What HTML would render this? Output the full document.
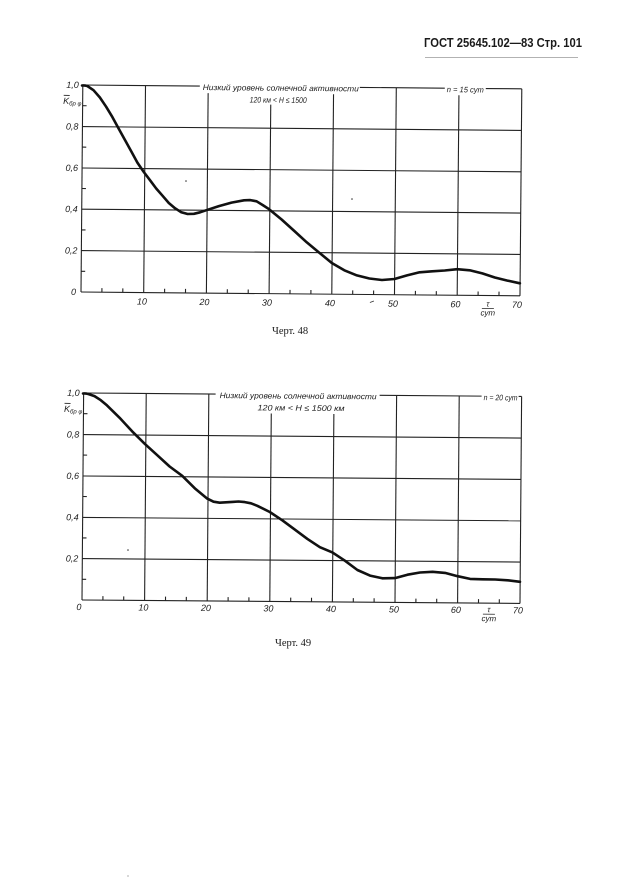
<!DOCTYPE html>
<html>
<head>
<meta charset="utf-8">
<style>
html,body{margin:0;padding:0;background:#fff;}
svg{display:block;}
text{font-family:"Liberation Sans","DejaVu Sans",sans-serif;fill:#1a1a1a;}
.it{font-style:italic;}
.g{stroke:#222;stroke-width:1.1;fill:none;}
.c{stroke:#111;stroke-width:2.6;fill:none;stroke-linejoin:round;stroke-linecap:round;}
.tl{font-size:9px;font-style:italic;}
.ti{font-size:8px;font-style:italic;}
.cap{font-family:"Liberation Serif","DejaVu Serif",serif;font-size:10.5px;}
</style>
</head>
<body>
<svg width="625" height="884" viewBox="0 0 625 884" xmlns="http://www.w3.org/2000/svg">
<rect width="625" height="884" fill="#fff"/>

<!-- Header -->
<text x="424" y="47" font-size="12.5" font-weight="bold" textLength="158" lengthAdjust="spacingAndGlyphs">ГОСТ 25645.102—83 Стр. 101</text>
<line x1="425" y1="57.5" x2="578" y2="57.5" stroke="#999" stroke-width="0.8"/>

<!-- ===== Chart 1 ===== -->
<g transform="rotate(0.5 81 292)">
  <!-- borders -->
  <line class="g" x1="81" y1="85" x2="81" y2="292" stroke-width="1.4"/>
  <line class="g" x1="81" y1="292" x2="520" y2="292" stroke-width="1.4"/>
  <line class="g" x1="520" y1="85" x2="520" y2="292"/>
  <line class="g" x1="81" y1="85" x2="198" y2="85"/>
  <line class="g" x1="358" y1="85" x2="443" y2="85"/>
  <line class="g" x1="484" y1="85" x2="520" y2="85"/>
  <!-- horizontal grid -->
  <line class="g" x1="81" y1="126.6" x2="520" y2="126.6"/>
  <line class="g" x1="81" y1="168" x2="520" y2="168"/>
  <line class="g" x1="81" y1="209.2" x2="520" y2="209.2"/>
  <line class="g" x1="81" y1="250.6" x2="520" y2="250.6"/>
  <!-- vertical grid -->
  <line class="g" x1="143.7" y1="85" x2="143.7" y2="292"/>
  <line class="g" x1="206.4" y1="92" x2="206.4" y2="292"/>
  <line class="g" x1="269.1" y1="103" x2="269.1" y2="292"/>
  <line class="g" x1="331.8" y1="92" x2="331.8" y2="292"/>
  <line class="g" x1="394.5" y1="85" x2="394.5" y2="292"/>
  <line class="g" x1="457.2" y1="92" x2="457.2" y2="292"/>
  <!-- y minor ticks -->
  <g class="g">
    <line x1="81" y1="105.7" x2="85" y2="105.7"/>
    <line x1="81" y1="147.1" x2="85" y2="147.1"/>
    <line x1="81" y1="188.5" x2="85" y2="188.5"/>
    <line x1="81" y1="229.9" x2="85" y2="229.9"/>
    <line x1="81" y1="271.3" x2="85" y2="271.3"/>
  </g>
  <!-- x minor ticks (thirds) -->
  <g class="g">
    <line x1="101.9" y1="292" x2="101.9" y2="288"/>
    <line x1="122.8" y1="292" x2="122.8" y2="288"/>
    <line x1="164.6" y1="292" x2="164.6" y2="288"/>
    <line x1="185.5" y1="292" x2="185.5" y2="288"/>
    <line x1="227.3" y1="292" x2="227.3" y2="288"/>
    <line x1="248.2" y1="292" x2="248.2" y2="288"/>
    <line x1="290" y1="292" x2="290" y2="288"/>
    <line x1="310.9" y1="292" x2="310.9" y2="288"/>
    <line x1="352.7" y1="292" x2="352.7" y2="288"/>
    <line x1="373.6" y1="292" x2="373.6" y2="288"/>
    <line x1="415.4" y1="292" x2="415.4" y2="288"/>
    <line x1="436.3" y1="292" x2="436.3" y2="288"/>
    <line x1="478.1" y1="292" x2="478.1" y2="288"/>
    <line x1="499" y1="292" x2="499" y2="288"/>
  </g>
  <!-- y labels -->
  <text class="tl" x="77" y="88" text-anchor="end">1,0</text>
  <text class="tl" x="77" y="129.6" text-anchor="end">0,8</text>
  <text class="tl" x="77" y="171" text-anchor="end">0,6</text>
  <text class="tl" x="77" y="212.2" text-anchor="end">0,4</text>
  <text class="tl" x="77" y="253.6" text-anchor="end">0,2</text>
  <text class="tl" x="76" y="295" text-anchor="end">0</text>
  <!-- y axis label -->
  <line x1="62" y1="95.5" x2="68" y2="95.5" stroke="#222" stroke-width="0.9"/>
  <text class="it" x="61.5" y="104" font-size="9">K<tspan font-size="6" dy="1.5">бр φ</tspan></text>
  <!-- x labels -->
  <text class="tl" x="142" y="304" text-anchor="middle">10</text>
  <text class="tl" x="204.5" y="304" text-anchor="middle">20</text>
  <text class="tl" x="267" y="304" text-anchor="middle">30</text>
  <text class="tl" x="330" y="304" text-anchor="middle">40</text>
  <text class="tl" x="393" y="304" text-anchor="middle">50</text>
  <text class="tl" x="455.5" y="304" text-anchor="middle">60</text>
  <text class="tl" x="517" y="304" text-anchor="middle">70</text>
  <text class="ti" x="488" y="303" text-anchor="middle">τ</text>
  <line x1="482" y1="305" x2="494" y2="305" stroke="#222" stroke-width="0.8"/>
  <text class="ti" x="488" y="312" text-anchor="middle">сут</text>
  <!-- titles -->
  <text class="ti" x="201" y="89" textLength="156" lengthAdjust="spacingAndGlyphs">Низкий уровень солнечной активности</text>
  <text class="ti" x="248" y="101" textLength="57" lengthAdjust="spacingAndGlyphs">120 км &lt; H ≤ 1500</text>
  <text class="ti" x="445" y="89" textLength="37" lengthAdjust="spacingAndGlyphs">n = 15 сут</text>
  <line x1="370" y1="300" x2="374" y2="298.5" stroke="#333" stroke-width="0.8"/>
</g>
<!-- curve 1 (absolute) -->
<path class="c" d="M82,85.5 C84,85.3 85.5,85.5 87.3,86 L93.5,90.2 L99.8,97.4 L106.1,106.7 L112.4,117.1 L118.6,128.5 L124.9,139.9 L131.2,151.2 L137.4,162.6 L143.7,171.9 L150,180.2 L156.2,188.5 L162.5,195.7 L168.8,203 L175,208.2 L181.3,212.3 L187.6,214 L193.9,213.8 L200.1,212.3 L206.4,210.2 L218.9,206.1 L231.5,202.6 L244,200.3 L250.3,200.1 L256.6,201.3 L262.8,205.1 L269.1,209.2 L281.6,219.5 L294.2,230.9 L306.7,242.3 L319.3,252.7 L331.8,263 L344.3,270.3 L356.9,275.4 L369.4,278.5 L382,280 L394.5,279 L407,275.4 L419.6,272.3 L432.1,271.3 L444.7,270.5 L457.2,269.2 L469.7,270.3 L482.3,273.4 L494.8,277.5 L507.4,280.6 L519.9,283.3"/>
<circle cx="186" cy="181" r="0.8" fill="#333"/>
<circle cx="352" cy="199" r="0.8" fill="#333"/>

<text class="cap" x="272" y="334">Черт. 48</text>

<!-- ===== Chart 2 ===== -->
<g transform="rotate(0.45 82 600)">
  <line class="g" x1="82" y1="393" x2="82" y2="600" stroke-width="1.4"/>
  <line class="g" x1="82" y1="600" x2="520" y2="600" stroke-width="1.4"/>
  <line class="g" x1="520" y1="393" x2="520" y2="600"/>
  <line class="g" x1="82" y1="393" x2="214" y2="393"/>
  <line class="g" x1="378" y1="393" x2="480" y2="393"/>
  <line class="g" x1="517" y1="393" x2="520" y2="393"/>
  <line class="g" x1="82" y1="434.6" x2="520" y2="434.6"/>
  <line class="g" x1="82" y1="476" x2="520" y2="476"/>
  <line class="g" x1="82" y1="517.4" x2="520" y2="517.4"/>
  <line class="g" x1="82" y1="558.6" x2="520" y2="558.6"/>
  <line class="g" x1="144.6" y1="393" x2="144.6" y2="600"/>
  <line class="g" x1="207.2" y1="393" x2="207.2" y2="600"/>
  <line class="g" x1="269.8" y1="412" x2="269.8" y2="600"/>
  <line class="g" x1="332.4" y1="412" x2="332.4" y2="600"/>
  <line class="g" x1="395" y1="393" x2="395" y2="600"/>
  <line class="g" x1="457.6" y1="393" x2="457.6" y2="600"/>
  <g class="g">
    <line x1="82" y1="413.7" x2="86" y2="413.7"/>
    <line x1="82" y1="455.1" x2="86" y2="455.1"/>
    <line x1="82" y1="496.5" x2="86" y2="496.5"/>
    <line x1="82" y1="537.9" x2="86" y2="537.9"/>
    <line x1="82" y1="579.3" x2="86" y2="579.3"/>
  </g>
  <g class="g">
    <line x1="102.9" y1="600" x2="102.9" y2="596"/>
    <line x1="123.7" y1="600" x2="123.7" y2="596"/>
    <line x1="165.5" y1="600" x2="165.5" y2="596"/>
    <line x1="186.3" y1="600" x2="186.3" y2="596"/>
    <line x1="228.1" y1="600" x2="228.1" y2="596"/>
    <line x1="248.9" y1="600" x2="248.9" y2="596"/>
    <line x1="290.7" y1="600" x2="290.7" y2="596"/>
    <line x1="311.5" y1="600" x2="311.5" y2="596"/>
    <line x1="353.3" y1="600" x2="353.3" y2="596"/>
    <line x1="374.1" y1="600" x2="374.1" y2="596"/>
    <line x1="415.9" y1="600" x2="415.9" y2="596"/>
    <line x1="436.7" y1="600" x2="436.7" y2="596"/>
    <line x1="478.5" y1="600" x2="478.5" y2="596"/>
    <line x1="499.3" y1="600" x2="499.3" y2="596"/>
  </g>
  <text class="tl" x="78" y="396" text-anchor="end">1,0</text>
  <text class="tl" x="78" y="437.6" text-anchor="end">0,8</text>
  <text class="tl" x="78" y="479" text-anchor="end">0,6</text>
  <text class="tl" x="78" y="520.4" text-anchor="end">0,4</text>
  <text class="tl" x="78" y="561.6" text-anchor="end">0,2</text>
  <line x1="63" y1="403.5" x2="69" y2="403.5" stroke="#222" stroke-width="0.9"/>
  <text class="it" x="62.5" y="412" font-size="9">K<tspan font-size="6" dy="1.5">бр φ</tspan></text>
  <text class="tl" x="79" y="610" text-anchor="middle">0</text>
  <text class="tl" x="143.5" y="610" text-anchor="middle">10</text>
  <text class="tl" x="206" y="610" text-anchor="middle">20</text>
  <text class="tl" x="268.5" y="610" text-anchor="middle">30</text>
  <text class="tl" x="331" y="610" text-anchor="middle">40</text>
  <text class="tl" x="394" y="610" text-anchor="middle">50</text>
  <text class="tl" x="456" y="610" text-anchor="middle">60</text>
  <text class="tl" x="518" y="610" text-anchor="middle">70</text>
  <text class="ti" x="489" y="609" text-anchor="middle">τ</text>
  <line x1="483" y1="611" x2="495" y2="611" stroke="#222" stroke-width="0.8"/>
  <text class="ti" x="489" y="618" text-anchor="middle">сут</text>
  <text class="ti" x="218" y="397" textLength="157" lengthAdjust="spacingAndGlyphs">Низкий уровень солнечной активности</text>
  <text class="ti" x="256" y="409" textLength="87" lengthAdjust="spacingAndGlyphs">120 км &lt; H ≤ 1500 км</text>
  <text class="ti" x="482" y="397" textLength="34" lengthAdjust="spacingAndGlyphs">n = 20 сут</text>
</g>
<path class="c" d="M83,393.5 C85,393.3 86.5,393.5 88.3,394 L94.5,396.1 L100.8,400.2 L107,405.4 L119.6,417.8 L132.1,431.3 L144.6,443.7 L157.1,455.1 L169.6,466.5 L182.2,475.8 L194.7,488.2 L207.2,498.6 L213.5,501.7 L219.7,502.7 L232.2,501.9 L238.5,501.5 L244.8,502.1 L251,503.3 L257.3,505.8 L269.8,512 L282.3,520.3 L294.8,529.6 L307.4,538.9 L319.9,547.2 L332.4,552.4 L344.9,560.7 L357.4,570 L370,575.6 L382.5,578.3 L395,578.1 L407.5,574.7 L420,572.5 L432.6,571.8 L445.1,572.9 L457.6,576.2 L470.1,578.9 L482.6,579.3 L495.2,579.5 L507.7,580.3 L520,581.8"/>
<circle cx="128" cy="550" r="0.8" fill="#333"/>

<text class="cap" x="275" y="646">Черт. 49</text>
<circle cx="128" cy="876" r="0.6" fill="#777"/>
</svg>
</body>
</html>
